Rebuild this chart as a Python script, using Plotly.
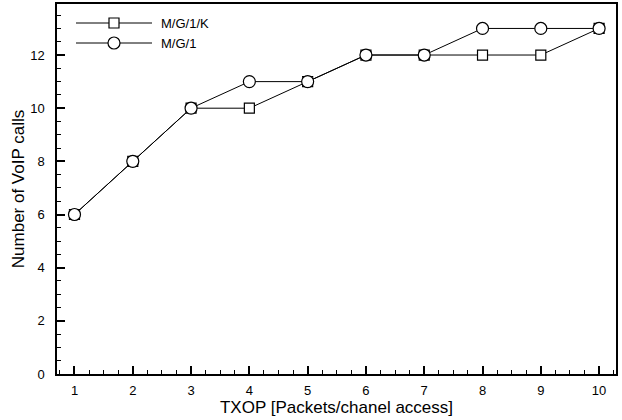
import plotly.graph_objects as go

txop = [1, 2, 3, 4, 5, 6, 7, 8, 9, 10]
mg1k = [6, 8, 10, 10, 11, 12, 12, 12, 12, 13]
mg1 = [6, 8, 10, 11, 11, 12, 12, 13, 13, 13]
x_ticks = [1, 2, 3, 4, 5, 6, 7, 8, 9, 10]
y_ticks = [0, 2, 4, 6, 8, 10, 12]

FONT = "Liberation Sans, Arial, Helvetica, sans-serif"

fig = go.Figure()
fig.add_trace(go.Scatter(
    x=txop, y=mg1k, mode="lines+markers", name="M/G/1/K",
    line=dict(color="black", width=1),
    marker=dict(symbol="square", size=10, color="white", line=dict(color="black", width=1.2)),
    showlegend=False))
fig.add_trace(go.Scatter(
    x=txop, y=mg1, mode="lines+markers", name="M/G/1",
    line=dict(color="black", width=1),
    marker=dict(symbol="circle", size=12, color="white", line=dict(color="black", width=1.2)),
    showlegend=False))

# custom legend (paper coordinates)
W, H = 622, 420
ml, mr, mt, mb = 57, 6, 4, 46
pw, ph = W - ml - mr, H - mt - mb

def px(x):
    return (x - ml) / pw

def py(y):
    return 1 - (y - mt) / ph

shapes = []
legend_items = [("M/G/1/K", "square", 23), ("M/G/1", "circle", 43)]
for name, sym, yy in legend_items:
    shapes.append(dict(type="line", xref="paper", yref="paper",
                       x0=px(76), x1=px(152), y0=py(yy), y1=py(yy),
                       line=dict(color="black", width=1)))
    if sym == "square":
        shapes.append(dict(type="rect", xref="paper", yref="paper",
                           x0=px(109), x1=px(119), y0=py(yy - 5), y1=py(yy + 5),
                           fillcolor="white", line=dict(color="black", width=1.2)))
    else:
        shapes.append(dict(type="circle", xref="paper", yref="paper",
                           x0=px(108), x1=px(120), y0=py(yy - 6), y1=py(yy + 6),
                           fillcolor="white", line=dict(color="black", width=1.2)))
    fig.add_annotation(x=px(159), y=py(yy), xref="paper", yref="paper",
                       text=name, showarrow=False, xanchor="left", yanchor="middle",
                       font=dict(family=FONT, size=13, color="black"))

fig.update_layout(
    width=W, height=H,
    margin=dict(l=ml, r=mr, t=mt, b=mb),
    paper_bgcolor="white", plot_bgcolor="white",
    shapes=shapes,
    font=dict(family=FONT, size=13, color="black"),
    xaxis=dict(
        range=[0.70, 10.29], tickmode="array", tickvals=x_ticks,
        ticks="inside", ticklen=8, tickwidth=1.5, tickcolor="black",
        minor=dict(dtick=0.25, tick0=0, ticks="inside", ticklen=4, tickwidth=1, tickcolor="black"),
        showline=True, linecolor="black", linewidth=1.5, mirror=True,
        showgrid=False, zeroline=False, automargin=False,
        ticklabelstandoff=4,
        title=dict(text="TXOP [Packets/chanel access]", font=dict(size=17), standoff=4),
        tickfont=dict(size=13),
    ),
    yaxis=dict(
        range=[0, 13.92], tickmode="array", tickvals=y_ticks,
        ticks="inside", ticklen=8, tickwidth=1.5, tickcolor="black",
        minor=dict(dtick=0.5, tick0=0, ticks="inside", ticklen=4, tickwidth=1, tickcolor="black"),
        showline=True, linecolor="black", linewidth=1.5, mirror=True,
        showgrid=False, zeroline=False, automargin=False,
        ticklabelstandoff=8,
        title=dict(text="Number of VoIP calls", font=dict(size=17), standoff=1),
        tickfont=dict(size=13),
    ),
)

fig.write_html("out.html", config={"displayModeBar": False},
               post_script="document.body.style.margin='0';document.body.style.overflow='hidden';")
